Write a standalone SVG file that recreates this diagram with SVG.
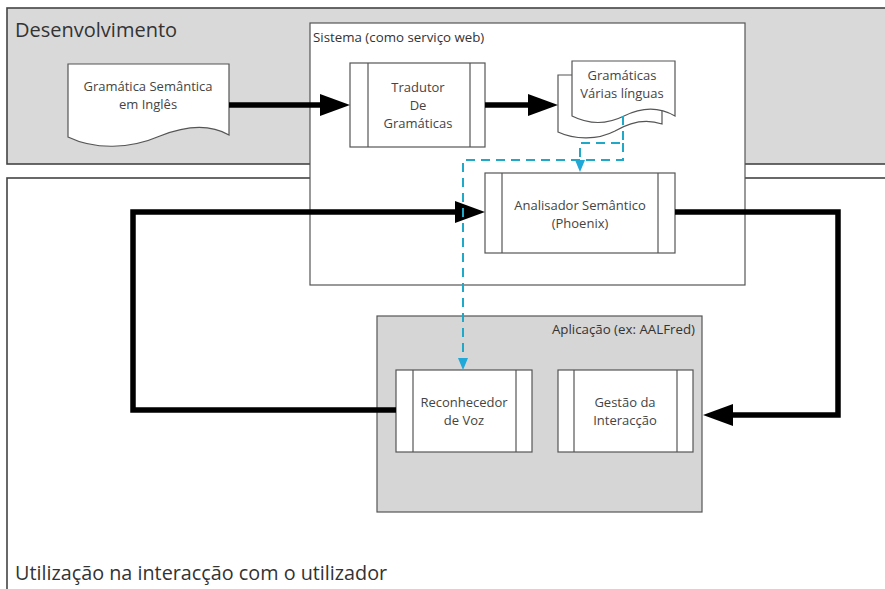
<svg xmlns="http://www.w3.org/2000/svg" width="885" height="589" viewBox="0 0 885 589">
  <style>
    .lbl { font-family: "Open Sans", "Noto Sans", sans-serif; fill: #333; }
    .node { font-family: "Open Sans", "Noto Sans", sans-serif; font-size: 13px; fill: #444; text-anchor: middle; }
    .box { fill: #fff; stroke: #555; stroke-width: 1.2; }
    .inner { stroke: #555; stroke-width: 1.2; }
    .doc { fill: #fff; stroke: #555; stroke-width: 1.2; }
    .flow { fill: none; stroke: #000; stroke-width: 5.5; stroke-linejoin: miter; }
    .dash { fill: none; stroke: #1fa8c8; stroke-width: 2; stroke-dasharray: 9 6; }
  </style>
  <defs>
    <marker id="bigArrow" markerUnits="userSpaceOnUse" markerWidth="32" markerHeight="24" refX="22" refY="11" orient="auto">
      <path d="M0,0 L30,11 L0,22 z" fill="#000"/>
    </marker>
    <marker id="cyanArrow" markerUnits="userSpaceOnUse" markerWidth="14" markerHeight="12" refX="8" refY="5" orient="auto">
      <path d="M0,0 L12,5 L0,10 z" fill="#1fa8d8"/>
    </marker>
  </defs>

  <g id="desenvolvimento">
    <rect x="7" y="8" width="890" height="156" fill="#d9d9d9" stroke="#444" stroke-width="1.6"/>
    <text class="lbl" x="15" y="37" font-size="20">Desenvolvimento</text>
  </g>

  <g id="utilizacao">
    <rect x="7" y="178" width="890" height="420" fill="#fff" stroke="#444" stroke-width="1.6"/>
    <text class="lbl" x="15" y="580" font-size="19.8">Utilização na interacção com o utilizador</text>
  </g>

  <g id="sistema">
    <rect x="310" y="23" width="435" height="262" fill="#fff" stroke="#555" stroke-width="1.2"/>
    <text class="lbl" x="313" y="42" font-size="13.3">Sistema (como serviço web)</text>
  </g>

  <g id="aplicacao">
    <rect x="377" y="316" width="325" height="196" fill="#d6d6d6" stroke="#555" stroke-width="1.2"/>
    <text class="lbl" x="695" y="334" font-size="13.3" text-anchor="end">Aplicação (ex: AALFred)</text>
  </g>

  <g id="gramatica-ingles">
    <path class="doc" d="M68,64 H229 V135 C210,124 185,126 160,136 C130,149 95,150 68,137 Z"/>
    <text class="node" x="148" y="91">Gramática Semântica</text>
    <text class="node" x="148" y="109">em Inglês</text>
  </g>

  <g id="tradutor">
    <rect class="box" x="350" y="63" width="135" height="84"/>
    <line class="inner" x1="368" y1="63" x2="368" y2="147"/>
    <line class="inner" x1="470" y1="63" x2="470" y2="147"/>
    <text class="node" x="418" y="92">Tradutor</text>
    <text class="node" x="418" y="110">De</text>
    <text class="node" x="418" y="128">Gramáticas</text>
  </g>

  <g id="gramaticas-linguas">
    <path class="doc" d="M558,75 H662 V124 C645,118 630,122 615,131 C598,140 575,140 558,132 Z"/>
    <path class="doc" d="M572,61 H675 V116 C658,106 640,108 624,116 C606,125 588,124 572,116 Z"/>
    <text class="node" x="622" y="80">Gramáticas</text>
    <text class="node" x="622" y="98">Várias línguas</text>
  </g>

  <g id="analisador">
    <rect class="box" x="485" y="173" width="190" height="80"/>
    <line class="inner" x1="502" y1="173" x2="502" y2="253"/>
    <line class="inner" x1="658" y1="173" x2="658" y2="253"/>
    <text class="node" x="580" y="210">Analisador Semântico</text>
    <text class="node" x="580" y="228">(Phoenix)</text>
  </g>

  <g id="reconhecedor">
    <rect class="box" x="396" y="370" width="136" height="82"/>
    <line class="inner" x1="413" y1="370" x2="413" y2="452"/>
    <line class="inner" x1="516" y1="370" x2="516" y2="452"/>
    <text class="node" x="464" y="407">Reconhecedor</text>
    <text class="node" x="464" y="425">de Voz</text>
  </g>

  <g id="gestao">
    <rect class="box" x="558" y="370" width="135" height="82"/>
    <line class="inner" x1="574" y1="370" x2="574" y2="452"/>
    <line class="inner" x1="677" y1="370" x2="677" y2="452"/>
    <text class="node" x="625" y="407">Gestão da</text>
    <text class="node" x="625" y="425">Interacção</text>
  </g>

  <g id="connectors">
    <line class="flow" x1="229" y1="105" x2="342" y2="105" marker-end="url(#bigArrow)"/>
    <line class="flow" x1="485" y1="105" x2="550" y2="105" marker-end="url(#bigArrow)"/>
    <polyline class="flow" points="396,410 133,410 133,212 477,212" marker-end="url(#bigArrow)"/>
    <polyline class="flow" points="675,212 838,212 838,415 711,415" marker-end="url(#bigArrow)"/>
    <polyline class="dash" points="623,116 623,143 580,143 580,168" marker-end="url(#cyanArrow)"/>
    <polyline class="dash" points="623,143 623,160 463,160 463,366" marker-end="url(#cyanArrow)"/>
  </g>
</svg>
